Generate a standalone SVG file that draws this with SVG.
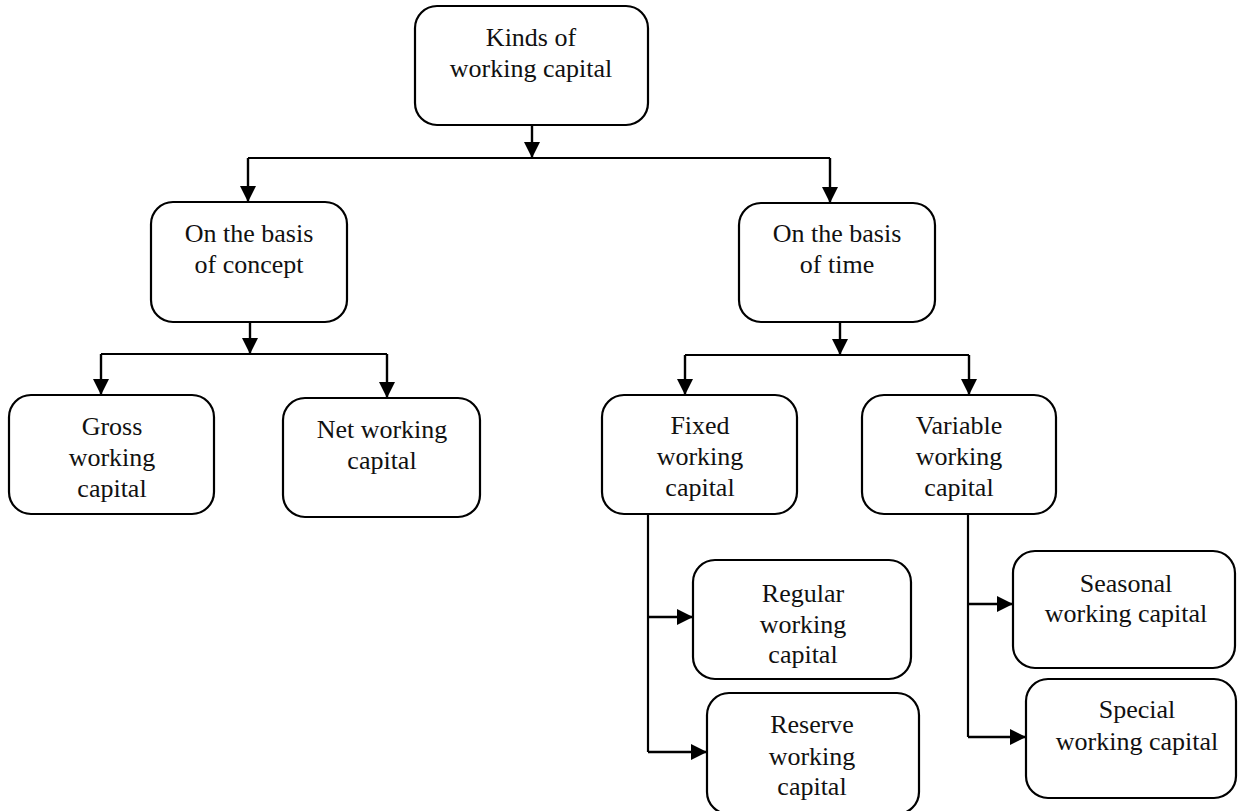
<svg xmlns="http://www.w3.org/2000/svg" width="1238" height="811" viewBox="0 0 1238 811">
<defs>
<marker id="ah" markerUnits="userSpaceOnUse" markerWidth="18" markerHeight="18" viewBox="0 0 18 18" refX="16" refY="9" orient="auto">
<path d="M0,1 L16,9 L0,17 Z" fill="#000"/>
</marker>
<style>
rect.n{fill:#fff;stroke:#000;stroke-width:2.2}
text{font-family:"Liberation Serif","Times New Roman",serif;font-size:26px;fill:#111;text-anchor:middle}
.c{fill:none;stroke:#000;stroke-width:2.2}
.a{fill:none;stroke:#000;stroke-width:2.4;marker-end:url(#ah)}
</style>
</defs>
<rect width="1238" height="811" fill="#fff"/>
<g id="connectors">
<path class="a" d="M532,125 L532,158"/>
<path class="c" d="M248,158 L830,158"/>
<path class="a" d="M248,158 L248,202"/>
<path class="a" d="M830,158 L830,203"/>
<path class="a" d="M250,322 L250,354"/>
<path class="c" d="M101,354 L387,354"/>
<path class="a" d="M101,354 L101,395"/>
<path class="a" d="M387,354 L387,398"/>
<path class="a" d="M840,322 L840,355"/>
<path class="c" d="M685,355 L969,355"/>
<path class="a" d="M685,355 L685,395"/>
<path class="a" d="M969,355 L969,395"/>
<path class="c" d="M648,514 L648,752"/>
<path class="a" d="M648,617 L693,617"/>
<path class="a" d="M648,752 L707,752"/>
<path class="c" d="M968,514 L968,737"/>
<path class="a" d="M968,604 L1013,604"/>
<path class="a" d="M968,737 L1026,737"/>
</g>
<g id="kinds">
<rect class="n" x="415" y="6" width="233" height="119" rx="22"/>
<text x="531" y="46">Kinds of</text>
<text x="531" y="77">working capital</text>
</g>
<g id="concept">
<rect class="n" x="151" y="202" width="196" height="120" rx="22"/>
<text x="249" y="242">On the basis</text>
<text x="249" y="273">of concept</text>
</g>
<g id="time">
<rect class="n" x="739" y="203" width="196" height="119" rx="22"/>
<text x="837" y="242">On the basis</text>
<text x="837" y="273">of time</text>
</g>
<g id="gross">
<rect class="n" x="9" y="395" width="205" height="119" rx="22"/>
<text x="112" y="435">Gross</text>
<text x="112" y="466">working</text>
<text x="112" y="497">capital</text>
</g>
<g id="net">
<rect class="n" x="283" y="398" width="197" height="119" rx="22"/>
<text x="382" y="438">Net working</text>
<text x="382" y="469">capital</text>
</g>
<g id="fixed">
<rect class="n" x="602" y="395" width="195" height="119" rx="22"/>
<text x="700" y="434">Fixed</text>
<text x="700" y="465">working</text>
<text x="700" y="496">capital</text>
</g>
<g id="variable">
<rect class="n" x="862" y="395" width="194" height="119" rx="22"/>
<text x="959" y="434">Variable</text>
<text x="959" y="465">working</text>
<text x="959" y="496">capital</text>
</g>
<g id="regular">
<rect class="n" x="693" y="560" width="218" height="119" rx="22"/>
<text x="803" y="602">Regular</text>
<text x="803" y="633">working</text>
<text x="803" y="663">capital</text>
</g>
<g id="reserve">
<rect class="n" x="707" y="693" width="212" height="121" rx="22"/>
<text x="812" y="733">Reserve</text>
<text x="812" y="765">working</text>
<text x="812" y="795">capital</text>
</g>
<g id="seasonal">
<rect class="n" x="1013" y="551" width="222" height="117" rx="22"/>
<text x="1126" y="592">Seasonal</text>
<text x="1126" y="622">working capital</text>
</g>
<g id="special">
<rect class="n" x="1026" y="679" width="210" height="119" rx="22"/>
<text x="1137" y="718">Special</text>
<text x="1137" y="750">working capital</text>
</g>
</svg>
